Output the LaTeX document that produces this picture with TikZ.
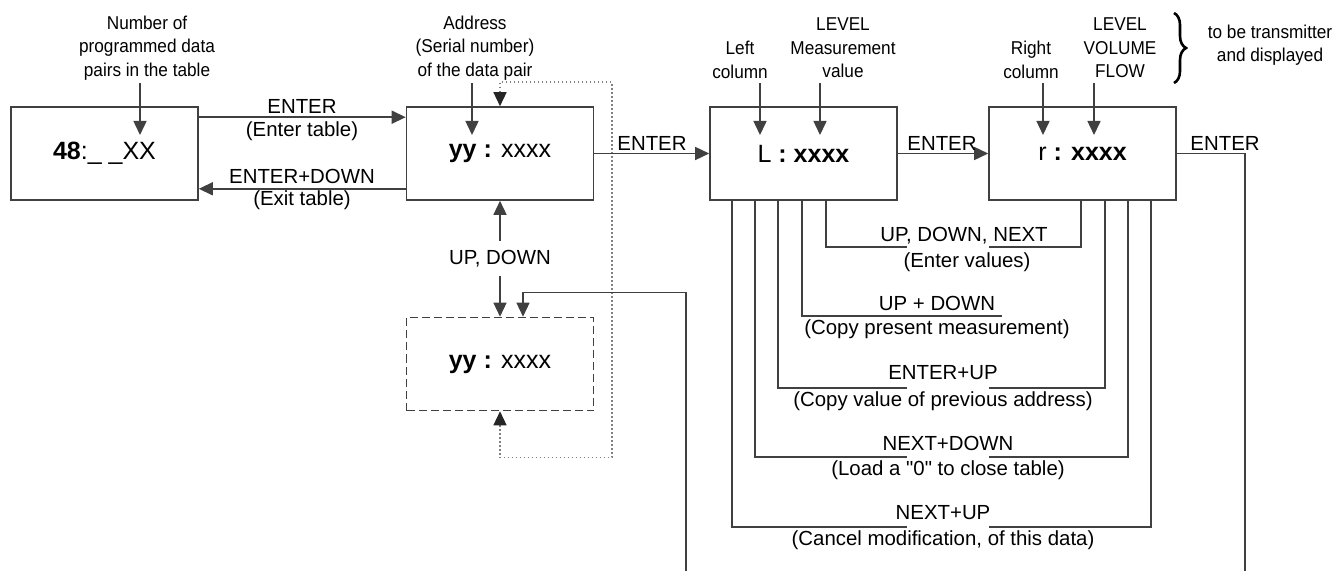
\documentclass[tikz,border=0pt]{standalone}
\usepackage{fontspec}
\setmainfont[Ligatures=TeXOff]{Liberation Sans}
\newfontfamily\narrowfont[FakeStretch=0.925]{Liberation Sans}
\usetikzlibrary{arrows.meta,calc,decorations.pathreplacing}
\definecolor{linec}{gray}{0.25}
\begin{document}
\begin{tikzpicture}[x=0.5pt,y=-0.5pt,
  box/.style={draw=linec,line width=0.8pt,minimum width=93.5pt,minimum height=46.5pt,inner sep=0pt,font=\fontsize{12.5}{14}\selectfont},
  dbox/.style={box,dashed,dash pattern=on 4pt off 2pt},
  conn/.style={draw=linec,line width=0.75pt},
  tip/.tip={Triangle[length=7pt,width=6.5pt]},
  btip/.tip={Triangle[length=7pt,width=6.5pt,color=black!85]},
  arr/.style={conn,-tip},
  lbl/.style={font=\fontsize{10.2}{12}\selectfont,inner sep=0pt},
  desc/.style={font=\narrowfont\fontsize{9.3}{11.75}\selectfont,align=center,inner sep=0pt},
  gapbox/.style={fill=white,minimum width=41pt,minimum height=3pt,inner sep=0pt},
  dotloop/.style={draw=gray,line width=0.75pt,dash pattern=on 0.8pt off 1.2pt,btip-btip}]
\useasboundingbox (0,0) rectangle (1336,571);

% boxes
\node[box] (b48) at (104.5,153.5) {\textbf{48}:\_ \_XX};
\node[box] (b2) at (500,153.5) {\textbf{yy} \textbf{:} xxxx};
\node[box] (b3) at (803.5,153.5) {L \textbf{: xxxx}};
\node[box] (b4) at (1082.5,153.5) {r \textbf{: xxxx}};
\node[dbox] (bd) at (500,364) {\textbf{yy} \textbf{:} xxxx};

% descriptions
\node[desc] (d48) at (147,48) {Number of\\programmed data\\pairs in the table};
\node[desc] (daddr) at (475,48) {Address\\(Serial number)\\of the data pair};
\node[desc] (dleft) at (740,60) {Left\\column};
\node[desc] (dlevel) at (843,48) {LEVEL\\Measurement\\value};
\node[desc] (dright) at (1031,60) {Right\\column};
\node[desc] (dlvf) at (1120,48) {LEVEL\\VOLUME\\FLOW};
\node[desc] (dtrans) at (1270,45) {to be transmitter\\and displayed};
\draw[decorate,decoration={brace,amplitude=6pt},line width=1.3pt] (1174,13) -- (1174,83);

\coordinate (t48) at (140,135);
\coordinate (taddr) at (472,135);
\coordinate (tleft) at (760,135);
\coordinate (tlevel) at (820,135);
\coordinate (tright) at (1043,135);
\coordinate (tlvf) at (1094,135);
\foreach \t/\d in {t48/d48,taddr/daddr,tleft/dleft,tlevel/dlevel,tright/dright,tlvf/dlvf}
  \draw[arr] (\t |- 0,83) -- (\t);

% enter / exit table
\draw[arr] ($(b48.north east)+(0,11)$) -- ($(b2.north west)+(0,11)$);
\node[lbl] at (302,106) {ENTER};
\node[lbl] at (302,131) {(Enter table)};
\draw[arr] ($(b2.south west)+(0,-12)$) -- ($(b48.south east)+(0,-12)$);
\node[lbl] at (302,176) {ENTER+DOWN};
\node[lbl] at (302,200) {(Exit table)};

% dotted loop
\draw[dotloop] (bd.south) -- ++(0,46) -- ++(112,0) |- ($(b2.north)+(0,-24)$) -- (b2.north);

% up down
\draw[conn,tip-tip] (b2.south) -- (bd.north)
  node[midway,fill=white,lbl,inner xsep=2pt,inner ysep=4.5pt] {UP, DOWN};

% return loop into dashed box
\coordinate (bot1) at (686,575);
\draw[arr] (bot1) |- ($(bd.north)+(23,-24)$) -- ($(bd.north)+(23,0)$);

% ENTER chain
\draw[arr] (b2.east) -- (b3.west);
\node[lbl] at (652,143) {ENTER};
\draw[arr] (b3.east) -- (b4.west);
\node[lbl] at (942,143) {ENTER};
\coordinate (bot2) at (1245,575);
\draw[conn] (b4.east) -| (bot2);
\node[lbl] at (1225,143) {ENTER};

% loops
\coordinate (bend) at (1002,316);
\draw[conn] ($(b3.south west)+(117,0)$) -- ++(0,46) -| ($(b4.south west)+(93,0)$);
\draw[conn] ($(b3.south west)+(93,0)$) |- (bend);
\draw[conn] ($(b3.south west)+(69,0)$) -- ++(0,187) -| ($(b4.south west)+(117,0)$);
\draw[conn] ($(b3.south west)+(46,0)$) -- ++(0,256) -| ($(b4.south west)+(140,0)$);
\draw[conn] ($(b3.south west)+(23,0)$) -- ++(0,326) -| ($(b4.south west)+(163,0)$);
\foreach \y in {246,387,456,526} \node[gapbox] at (948,\y) {};

\node[lbl] at (964,236) {UP, DOWN, NEXT};
\node[lbl] at (967,262) {(Enter values)};
\node[lbl] at (937,303) {UP + DOWN};
\node[lbl] at (937,329) {(Copy present measurement)};
\node[lbl] at (943,373) {ENTER+UP};
\node[lbl] at (943,401) {(Copy value of previous address)};
\node[lbl] at (948,443) {NEXT+DOWN};
\node[lbl] at (948,470) {(Load a "0" to close table)};
\node[lbl] at (943,513) {NEXT+UP};
\node[lbl] at (943,540) {(Cancel modification, of this data)};
\end{tikzpicture}
\end{document}
